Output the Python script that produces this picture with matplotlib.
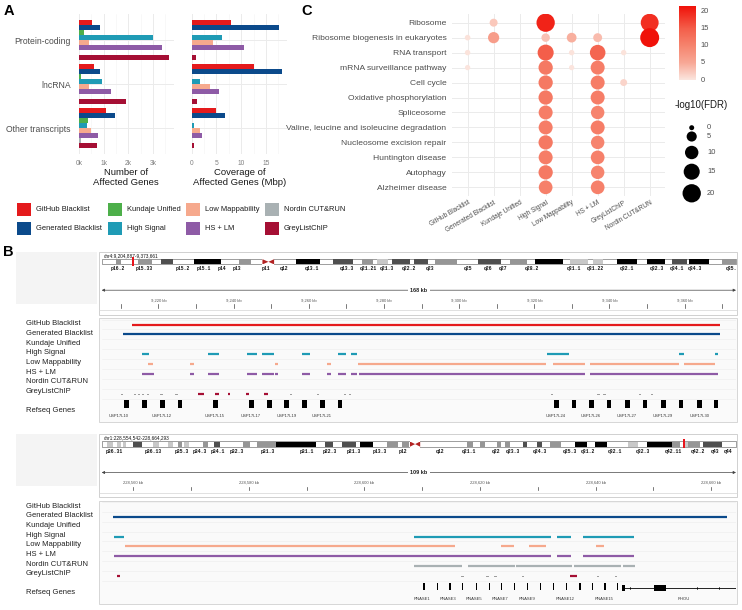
import math
import matplotlib
matplotlib.use("Agg")
import matplotlib.pyplot as plt
from matplotlib.patches import Rectangle, Polygon
from matplotlib.colors import LinearSegmentedColormap, Normalize
import numpy as np

plt.rcParams["font.family"] = ["Liberation Sans", "DejaVu Sans"]

# ------------------------------------------------------------------ data
set_names = ["GitHub Blacklist", "Generated Blacklist", "Kundaje Unified", "High Signal",
             "Low Mappability", "HS + LM", "Nordin CUT&RUN", "GreyListChIP"]
set_colors = ["#E41A1C", "#0B4A8B", "#4DAF4A", "#1F9BB5",
              "#F6A98D", "#8E5BA6", "#A9B1B3", "#A50F34"]

# Panel A
transcript_types = ["Protein-coding", "lncRNA", "Other transcripts"]
n_genes_protein = [520, 840, 200, 3000, 410, 3370, 20, 3650]
n_genes_lnc = [590, 870, 100, 950, 410, 1310, 10, 1910]
n_genes_other = [1080, 1470, 350, 330, 480, 790, 70, 750]
cov_mbp_protein = [7.9, 17.7, 0.1, 6.2, 4.3, 10.5, 0.03, 0.9]
cov_mbp_lnc = [12.5, 18.3, 0.05, 1.7, 3.7, 5.5, 0.02, 1.1]
cov_mbp_other = [4.9, 6.8, 0.05, 0.45, 1.6, 2.1, 0.02, 0.5]
genes_ticks = [0, 1000, 2000, 3000]
genes_tick_labels = ["0k", "1k", "2k", "3k"]
cov_ticks = [0, 5, 10, 15]

# Panel C
pathways = ["Ribosome", "Ribosome biogenesis in eukaryotes", "RNA transport",
            "mRNA surveillance pathway", "Cell cycle", "Oxidative phosphorylation",
            "Spliceosome", "Valine, leucine and isoleucine degradation",
            "Nucleosome excision repair", "Huntington disease", "Autophagy",
            "Alzheimer disease"]
enrich_sets = ["GitHub Blacklist", "Generated Blacklist", "Kundaje Unified", "High Signal",
               "Low Mappability", "HS + LM", "GreyListChIP", "Nordin CUT&RUN"]
N = None
neglog10_fdr = [
    [N, 2.5, N, 20.0, N, N, N, 19.0],
    [0.4, 6.5, N, 3.0, 4.5, 3.5, N, 21.5],
    [0.3, N, N, 15.0, 0.3, 14.0, 0.3, N],
    [0.2, N, N, 11.5, 0.2, 11.0, N, N],
    [N, N, N, 11.5, N, 11.0, 1.5, N],
    [N, N, N, 11.5, N, 11.0, N, N],
    [N, N, N, 11.0, N, 10.0, N, N],
    [N, N, N, 11.0, N, 11.0, N, N],
    [N, N, N, 11.5, N, 10.0, N, N],
    [N, N, N, 11.0, N, 10.5, N, N],
    [N, N, N, 11.5, N, 10.0, N, N],
    [N, N, N, 10.5, N, 10.5, N, N],
]
fdr_max = 21.5
color_ticks = [0, 5, 10, 15, 20]
size_breaks = [0, 5, 10, 15, 20]

# Panel B, region 1 (chr4)
r1_chrom, r1_start_bp, r1_end_bp, r1_chr_len = "chr4", 9204887, 9373661, 190.21
chr4_band_start = [4.3, 10.9, 17.7, 27.7, 41.2, 58.3, 69.4, 78.0, 82.6, 87.0, 93.7, 100.0,
                   112.9, 122.4, 129.9, 140.4, 147.3, 154.5, 163.5, 171.0, 176.1, 186.0]
chr4_band_end = [5.7, 15.1, 21.3, 35.7, 44.7, 65.5, 75.3, 81.3, 85.9, 92.5, 97.9, 106.6,
                 119.7, 127.5, 138.3, 145.8, 150.3, 160.5, 168.9, 175.5, 182.1, 190.2]
chr4_band_stain = [50, 50, 75, 100, 50, 100, 75, 50, 25, 75, 75, 50,
                   75, 50, 100, 25, 25, 100, 100, 75, 100, 50]
chr4_centromere = [48.2, 50.0, 51.7]
chr4_labels = ["p16.2", "p15.33", "p15.2", "p15.1", "p14", "p13", "p11", "q12", "q13.1",
               "q13.3", "q21.21", "q21.3", "q22.2", "q23", "q25", "q26", "q27", "q28.2",
               "q31.1", "q31.22", "q32.1", "q32.3", "q34.1", "q34.3", "q35."]
chr4_label_pos = [4.8, 12.7, 24.3, 30.7, 36.0, 40.5, 49.2, 54.6, 63.0, 73.5, 80.0, 85.5,
                  92.2, 98.4, 109.8, 115.8, 120.3, 128.9, 141.6, 147.9, 157.4, 166.4,
                  172.4, 177.9, 188.9]
r1_github = [(9212.9, 9369.5)]
r1_generated = [(9210.5, 9369.5)]
r1_kundaje = []
r1_high = [(9215.7, 9217.6), (9233.2, 9236.1), (9243.6, 9246.1), (9247.6, 9250.7),
           (9258.3, 9260.2), (9267.8, 9269.9), (9271.1, 9272.7), (9323.3, 9329.3),
           (9358.6, 9359.7), (9368.2, 9369.0)]
r1_lowmap = [(9217.2, 9218.6), (9228.5, 9229.4), (9250.9, 9251.8), (9264.9, 9265.8),
             (9273.1, 9323.2), (9325.1, 9333.4), (9334.9, 9358.6), (9359.9, 9368.1)]
r1_hslm = [(9215.7, 9218.7), (9228.5, 9229.4), (9233.2, 9236.1), (9243.6, 9246.2),
           (9247.6, 9250.7), (9250.9, 9251.8), (9258.3, 9260.2), (9264.9, 9265.8),
           (9267.8, 9269.9), (9271.1, 9272.7), (9273.4, 9333.4), (9334.9, 9369.0)]
r1_nordin = []
r1_grey = [(9230.5, 9232.1), (9235.0, 9236.1), (9238.5, 9239.0), (9243.4, 9244.0),
           (9248.1, 9249.1)]
r1_grey_small = [9210.1, 9213.5, 9214.5, 9215.7, 9217.0, 9220.5, 9224.5, 9255.0, 9262.1,
                 9269.3, 9270.7, 9324.4, 9336.8, 9338.4, 9347.9, 9351.0]
r1_gene_pos = [9211.5, 9216.3, 9221.0, 9225.7, 9235.2, 9244.7, 9249.6, 9254.1, 9258.9,
               9263.6, 9268.3, 9325.9, 9330.6, 9335.2, 9339.9, 9344.8, 9349.4, 9354.4,
               9359.0, 9363.9, 9368.3]
r1_gene_labels = ["USP17L10", "USP17L12", "USP17L15", "USP17L17", "USP17L19", "USP17L21",
                  "USP17L24", "USP17L26", "USP17L27", "USP17L29", "USP17L30"]
r1_gene_label_pos = [9209.4, 9220.7, 9234.9, 9244.5, 9254.0, 9263.3, 9325.7, 9335.0,
                     9344.6, 9354.1, 9363.9]

# Panel B, region 2 (chr1)
r2_chrom, r2_start_bp, r2_end_bp, r2_chr_len = "chr1", 228554542, 228664293, 248.96
chr1_band_start = [2.2, 5.9, 8.5, 12.4, 20.3, 26.1, 30.1, 32.3, 39.6, 44.1, 55.6, 60.8, 68.4,
                   87.6, 94.2, 101.4, 111.9, 117.8, 143.3, 148.5, 155.0, 158.3, 165.2, 170.7,
                   176.0, 185.8, 193.6, 206.7, 214.2, 223.7, 229.0, 230.2, 236.1]
chr1_band_end = [4.6, 7.5, 9.5, 15.7, 22.6, 27.9, 31.4, 34.4, 41.8, 46.4, 58.2, 68.4, 84.1,
                 90.9, 99.8, 106.4, 116.4, 120.7, 145.9, 150.4, 156.7, 160.3, 166.8, 172.7,
                 180.2, 190.4, 198.4, 210.6, 223.7, 227.0, 230.2, 234.8, 243.4]
chr1_band_stain = [25, 25, 25, 75, 25, 25, 50, 25, 50, 75, 50, 50, 100,
                   75, 75, 100, 50, 50, 50, 50, 50, 50, 75, 75,
                   50, 100, 100, 25, 100, 50, 25, 50, 75]
chr1_centromere = [121.0, 123.0, 125.0]
chr1_labels = ["p36.31", "p36.13", "p35.3", "p34.3", "p34.1", "p32.3", "p31.3", "p31.1",
               "p22.3", "p21.3", "p13.3", "p12", "q12", "q21.1", "q22", "q23.3", "q24.3",
               "q25.3", "q31.2", "q32.1", "q32.3", "q42.11", "q42.2", "q43", "q44"]
chr1_label_pos = [4.9, 20.3, 31.4, 38.6, 45.5, 53.0, 65.2, 80.5, 89.6, 98.8, 109.2, 118.4,
                  132.8, 144.3, 154.8, 161.6, 172.0, 183.8, 191.0, 201.5, 212.6, 224.4,
                  233.9, 240.7, 245.9]
r2_github = []
r2_generated = [(228556.5, 228662.7)]
r2_kundaje = []
r2_high = [(228556.6, 228558.4), (228608.6, 228632.2), (228633.3, 228635.8),
           (228637.8, 228646.6)]
r2_lowmap = [(228558.5, 228615.6), (228623.6, 228625.9), (228628.4, 228631.4),
             (228640.0, 228641.5)]
r2_hslm = [(228556.6, 228632.2), (228633.3, 228635.8), (228637.8, 228646.6)]
r2_nordin = [(228608.6, 228616.8), (228617.9, 228626.0), (228626.2, 228635.9),
             (228636.3, 228644.4), (228644.7, 228646.8)]
r2_grey = [(228557.2, 228557.7), (228635.6, 228636.7)]
r2_grey_small = [228616.7, 228621.0, 228622.4, 228627.2, 228640.2, 228643.3]
r2_gene_pos = [228610.3, 228612.6, 228614.8, 228617.0, 228619.4, 228621.6, 228623.7,
               228626.0, 228628.2, 228630.5, 228632.7, 228635.0, 228637.3, 228639.5,
               228641.6, 228643.8]
r2_gene_labels = ["RNASE1", "RNASE3", "RNASE5", "RNASE7", "RNASE9", "RNASE12", "RNASE15",
                  "RHOU"]
r2_gene_label_pos = [228610.0, 228614.5, 228619.0, 228623.5, 228628.1, 228634.8, 228641.5,
                     228655.3]
rhou_span = (228644.7, 228670.0)
rhou_exons = [(228644.6, 228645.1), (228650.1, 228652.2)]
rhou_strand_marks = [228646.0, 228657.5, 228661.3, 228665.0]

# ------------------------------------------------------------------ figure
W, H = 742, 610
fig = plt.figure(figsize=(W / 100, H / 100), dpi=100)
fig.patch.set_facecolor("white")
bg = fig.add_axes([0, 0, 1, 1], zorder=0)
bg.set_xlim(0, W)
bg.set_ylim(H, 0)
bg.axis("off")


def px_axes(x0, y0, x1, y1, zorder=2):
    ax = fig.add_axes([x0 / W, 1 - y1 / H, (x1 - x0) / W, (y1 - y0) / H], zorder=zorder)
    ax.set_facecolor("none")
    return ax


TXT = "#4D4D4D"
GRID = "#EBEBEB"

# ------------------------------------------------------------------ panel A
bar_h = 0.9 / len(set_names)


def bar_panel(ax, values_by_type, xmax, ticks, tick_labels, minor, show_y):
    ax.set_xlim(0, xmax)
    ax.set_ylim(len(transcript_types) - 1 + 0.6, -0.6)
    for v in minor:
        ax.axvline(v, color="#F4F4F4", lw=0.4, zorder=0)
    for v in ticks:
        ax.axvline(v, color=GRID, lw=0.7, zorder=0)
    for i in range(len(transcript_types)):
        ax.axhline(i, color=GRID, lw=0.7, zorder=0)
    for i, vals in enumerate(values_by_type):
        ys = [i + (j - (len(vals) - 1) / 2) * bar_h for j in range(len(vals))]
        ax.barh(ys, vals, height=bar_h, color=set_colors, linewidth=0, zorder=2)
    for s in ax.spines.values():
        s.set_visible(False)
    ax.set_xticks(ticks)
    ax.set_xticklabels(tick_labels, fontsize=4.8, color="#808080")
    ax.tick_params(axis="x", length=0, pad=4)
    if show_y:
        ax.set_yticks(range(len(transcript_types)))
        ax.set_yticklabels(transcript_types, fontsize=6.2, color=TXT)
        ax.tick_params(axis="y", length=0, pad=6)
    else:
        ax.set_yticks([])


axA1 = px_axes(79, 13.6, 173.5, 154.4)
bar_panel(axA1, [n_genes_protein, n_genes_lnc, n_genes_other], 3840,
          genes_ticks, genes_tick_labels, [500, 1500, 2500, 3500], True)
axA2 = px_axes(191.7, 13.6, 287.4, 154.4)
bar_panel(axA2, [cov_mbp_protein, cov_mbp_lnc, cov_mbp_other], 19.3,
          cov_ticks, [str(t) for t in cov_ticks], [2.5, 7.5, 12.5, 17.5], False)

bg.text(126, 172.7, "Number of", ha="center", va="center", fontsize=6.8, color="#1A1A1A")
bg.text(126, 182.9, "Affected Genes", ha="center", va="center", fontsize=6.8, color="#1A1A1A")
bg.text(239.5, 172.7, "Coverage of", ha="center", va="center", fontsize=6.8, color="#1A1A1A")
bg.text(239.5, 182.9, "Affected Genes (Mbp)", ha="center", va="center", fontsize=6.8,
        color="#1A1A1A")

leg_col_x = [17, 108, 186, 265]
leg_row_y = [209.5, 228.5]
for k, (name, col) in enumerate(zip(set_names, set_colors)):
    cx = leg_col_x[k // 2]
    cy = leg_row_y[k % 2]
    bg.add_patch(Rectangle((cx, cy - 6.2), 14.4, 12.4, fc=col, ec="none"))
    bg.text(cx + 19, cy, name, fontsize=5.4, va="center", ha="left", color="#1A1A1A")

# ------------------------------------------------------------------ panel C
cmap = LinearSegmentedColormap.from_list(
    "fdr", [(0.0, "#FBE6DF"), (5 / fdr_max, "#F8A896"), (10 / fdr_max, "#F6846E"),
            (15 / fdr_max, "#F45E4A"), (1.0, "#F0120A")])
norm = Normalize(0, fdr_max)


def dot_area(v):
    return 12.96 + 8.04 * np.asarray(v, dtype=float)


axC = px_axes(452, 13.7, 665.3, 196.3)
axC.set_xlim(-0.6, len(enrich_sets) - 0.4)
axC.set_ylim(len(pathways) - 0.4, -0.6)
for i in range(len(enrich_sets)):
    axC.axvline(i, color=GRID, lw=0.7, zorder=0)
for j in range(len(pathways)):
    axC.axhline(j, color=GRID, lw=0.7, zorder=0)
xs, ys, vs = [], [], []
for r, row in enumerate(neglog10_fdr):
    for c, v in enumerate(row):
        if v is None:
            continue
        xs.append(c)
        ys.append(r)
        vs.append(v)
axC.scatter(xs, ys, s=dot_area(vs), c=vs, cmap=cmap, norm=norm, linewidths=0, zorder=3)
for s in axC.spines.values():
    s.set_visible(False)
axC.set_xticks(range(len(enrich_sets)))
axC.set_xticklabels(enrich_sets, rotation=30, ha="right", rotation_mode="anchor",
                    fontsize=4.7, color=TXT)
axC.set_yticks(range(len(pathways)))
axC.set_yticklabels(pathways, fontsize=6.1, color=TXT)
axC.tick_params(axis="y", length=0, pad=4)
axC.tick_params(axis="x", length=0, pad=2)

cax = px_axes(679, 6, 695.7, 80, zorder=3)
cax.imshow(np.linspace(0, fdr_max, 256)[:, None], aspect="auto", cmap=cmap, norm=norm,
           origin="lower", extent=[0, 1, 0, fdr_max])
cax.set_xlim(0, 1)
cax.set_ylim(0, fdr_max)
cax.axis("off")
for t in color_ticks:
    cax.text(1.3, t, str(t), transform=cax.get_yaxis_transform(), fontsize=5.4,
             va="center", ha="left", color=TXT)

bg.text(675, 105, "-log10(FDR)", fontsize=7, va="center", ha="left", color="#1A1A1A")
size_leg_y = [127.7, 136.5, 152.5, 171.7, 193.3]
bg.scatter([691.7] * len(size_breaks), size_leg_y, s=dot_area(size_breaks), c="black",
           linewidths=0, zorder=3)
for v, y in zip(size_breaks, size_leg_y):
    bg.text(707, y, str(v), fontsize=5.4, va="center", ha="left", color=TXT)

# ------------------------------------------------------------------ panel B
stain_colors = {25: "#C8C8C8", 50: "#969696", 75: "#4F4F4F", 100: "#000000"}
track_width = 1.6


def draw_region(top, chrom, start_bp, end_bp, chr_len, b_start, b_end, b_stain, cen,
                lab_names, lab_pos, tracks, small_marks, gene_pos, gene_w, gene_h,
                g_labels, g_label_pos, rhou=None):
    x0, x1 = 101.7, 736.0
    start_kb, end_kb = start_bp / 1000.0, end_bp / 1000.0
    # name panel + header frame
    bg.add_patch(Rectangle((16, top), 81, 52, fc="#F4F4F4", ec="none"))
    bg.add_patch(Rectangle((99, top), 637.5, 63, fc="white", ec="#C9C9C9", lw=0.6))
    bg.plot([99, 736.5], [top + 58.5] * 2, color="#D5D5D5", lw=0.5)
    bg.text(104, top + 3.8, f"{chrom}:{start_bp:,}-{end_bp:,}", fontsize=3.4,
            va="center", ha="left", color="#111111")
    # ideogram
    axI = px_axes(x0, top + 7.5, x1, top + 12.7)
    axI.set_xlim(0, chr_len)
    axI.set_ylim(0, 1)
    axI.axis("off")
    axI.add_patch(Rectangle((0, 0), chr_len, 1, fc="white", ec="#555555", lw=0.4,
                            clip_on=False))
    for s, e, st in zip(b_start, b_end, b_stain):
        axI.add_patch(Rectangle((s, 0), e - s, 1, fc=stain_colors[st], ec="none"))
    cl, cm, cr = cen
    axI.add_patch(Rectangle((cl, -0.3), cr - cl, 1.6, fc="white", ec="none", clip_on=False,
                            zorder=3))
    axI.add_patch(Polygon([(cl, 0), (cl, 1), (cm, 0.5)], closed=True, fc="#B22222",
                          ec="none", zorder=4))
    axI.add_patch(Polygon([(cr, 0), (cr, 1), (cm, 0.5)], closed=True, fc="#B22222",
                          ec="none", zorder=4))
    mid = (start_bp + end_bp) / 2e6
    mw = chr_len * 2.2 / (x1 - x0)
    axI.add_patch(Rectangle((mid - mw / 2, -0.3), mw, 1.8, fc="#E8141C", ec="none",
                            clip_on=False, zorder=5))
    for name, p in zip(lab_names, lab_pos):
        axI.text(p, -0.35, name, ha="center", va="top", fontsize=3.4, weight="bold",
                 family=["Liberation Mono", "DejaVu Sans Mono"], clip_on=False,
                 color="#111111")
    # ruler
    axR = px_axes(x0, top + 30, x1, top + 60)
    axR.set_xlim(start_kb, end_kb)
    axR.set_ylim(top + 60, top + 30)
    axR.axis("off")
    ya = top + 38.5
    axR.annotate("", xy=(end_kb, ya), xytext=(start_kb, ya),
                 arrowprops=dict(arrowstyle="<|-|>", color="#444444", lw=0.5,
                                 mutation_scale=4, shrinkA=0, shrinkB=0))
    axR.text((start_kb + end_kb) / 2, ya, f"{int(end_kb - start_kb)} kb", ha="center",
             va="center", fontsize=4, weight="bold", color="#222222",
             bbox=dict(fc="white", ec="none", pad=1.5))
    t = int(math.ceil(start_kb / 10.0) * 10)
    while t < end_kb:
        axR.plot([t, t], [top + 52.5, top + 56], color="#444444", lw=0.5)
        if t % 20 == 0:
            axR.text(t, top + 48.5, f"{t:,} kb", ha="center", va="center", fontsize=3,
                     color="#555555")
        t += 10
    # track frame
    bg.add_patch(Rectangle((99, top + 66.6), 637.5, 103.4, fc="#FAFAFA", ec="#D0D0D0",
                           lw=0.6))
    axT = px_axes(x0, top + 66.6, x1, top + 170)
    axT.set_xlim(start_kb, end_kb)
    axT.set_ylim(top + 170, top + 66.6)
    axT.axis("off")
    row0, dy = top + 72.8, 9.9
    for i in range(len(tracks) + 1):
        axT.axhline(row0 + dy * i - dy / 2, color="#EDEDED", lw=0.4, zorder=0)
    for i, segs in enumerate(tracks):
        y = row0 + dy * i
        for s, e in segs:
            axT.plot([s, e], [y, y], color=set_colors[i], lw=track_width,
                     solid_capstyle="butt", zorder=2)
    yg = row0 + dy * (len(tracks) - 1)
    for p in small_marks:
        axT.plot([p, p + 0.3], [yg, yg], color="#9A9A9A", lw=0.7, zorder=2)
    gy = top + 152.5
    for p in gene_pos:
        axT.add_patch(Rectangle((p - gene_w / 2, gy - gene_h / 2), gene_w, gene_h,
                                fc="black", ec="none", zorder=3))
    if rhou is not None:
        span, exons, marks = rhou
        axT.plot([span[0], span[1]], [gy + 1.5, gy + 1.5], color="black", lw=0.6, zorder=3)
        for s, e in exons:
            axT.add_patch(Rectangle((s, gy + 1.5 - 3.2), e - s, 6.4, fc="black", ec="none",
                                    zorder=3))
        for m in marks:
            axT.plot([m, m], [gy + 0.5, gy + 2.5], color="black", lw=0.5, zorder=3)
    for name, p in zip(g_labels, g_label_pos):
        axT.text(p, top + 164.5, name, ha="center", va="center", fontsize=3,
                 color="#333333")
    # track names
    for i, name in enumerate(set_names):
        bg.text(25.7, top + 72 + 9.67 * i, name, fontsize=5.5, va="center", ha="left",
                color="#222222")
    bg.text(25.7, top + 159, "Refseq Genes", fontsize=5.5, va="center", ha="left",
            color="#222222")


draw_region(251.7, r1_chrom, r1_start_bp, r1_end_bp, r1_chr_len,
            chr4_band_start, chr4_band_end, chr4_band_stain, chr4_centromere,
            chr4_labels, chr4_label_pos,
            [r1_github, r1_generated, r1_kundaje, r1_high, r1_lowmap, r1_hslm, r1_nordin,
             r1_grey],
            r1_grey_small, r1_gene_pos, 1.2, 8.0, r1_gene_labels, r1_gene_label_pos)

draw_region(434.0, r2_chrom, r2_start_bp, r2_end_bp, r2_chr_len,
            chr1_band_start, chr1_band_end, chr1_band_stain, chr1_centromere,
            chr1_labels, chr1_label_pos,
            [r2_github, r2_generated, r2_kundaje, r2_high, r2_lowmap, r2_hslm, r2_nordin,
             r2_grey],
            r2_grey_small, r2_gene_pos, 0.25, 7.0, r2_gene_labels, r2_gene_label_pos,
            rhou=(rhou_span, rhou_exons, rhou_strand_marks))

# panel letters
bg.text(4, 11, "A", fontsize=10.5, weight="bold", va="center", ha="left", color="black")
bg.text(301, 11, "C", fontsize=10.5, weight="bold", va="center", ha="left", color="black")
bg.text(3, 252.5, "B", fontsize=10.5, weight="bold", va="center", ha="left", color="black")

fig.savefig("out.png", dpi=100, facecolor="white")
